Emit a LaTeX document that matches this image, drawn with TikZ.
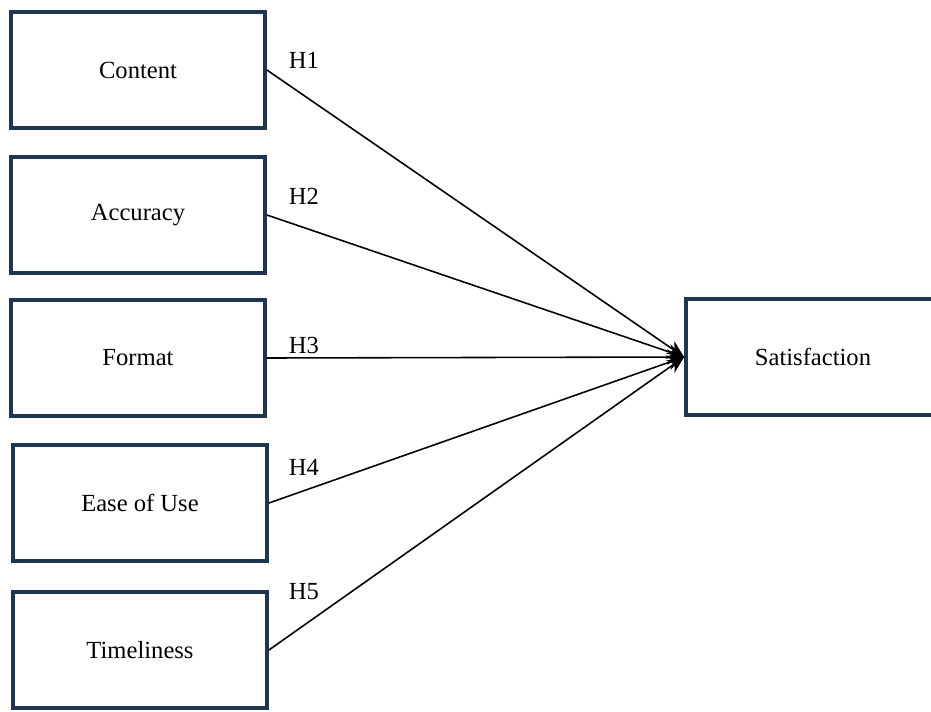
\documentclass[tikz,border=0pt]{standalone}
\usepackage{fontspec}
\setmainfont{Liberation Serif}
\usetikzlibrary{arrows.meta,positioning}
\definecolor{navy}{HTML}{1F3550}

\begin{document}
\begin{tikzpicture}[x=0.02cm,y=-0.02cm,
  varbox/.style={draw=navy,line width=2.2pt,minimum width=5.08cm,minimum height=2.32cm,font=\fontsize{14}{16}\selectfont},
  hyp/.style={-{Stealth[length=3.4mm,width=3mm]},line width=0.9pt},
  hlabel/.style={font=\fontsize{14}{16}\selectfont,inner sep=1pt}]
\useasboundingbox (0,0) rectangle (931,711);
\foreach \i/\x/\y/\name in {1/138/70/Content,2/138/215/Accuracy,3/138/358/Format,4/140/503/Ease of Use,5/140/650/Timeliness}{
  \node[varbox] at (\x,\y) (c\i) {\name};
}
\node[varbox] at (813,357) (sat) {Satisfaction};
\foreach \i/\ly in {1/60,2/196,3/345,4/467,5/592}{
  \draw[hyp] (c\i.east) -- (sat.west);
  \node[hlabel] at (304,\ly) (h\i) {H\i};
}
\end{tikzpicture}
\end{document}
